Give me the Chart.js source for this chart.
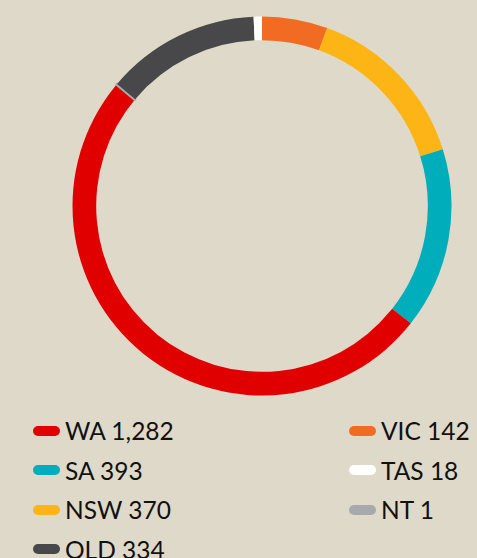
<!DOCTYPE html>
<html>
<head>
<meta charset="utf-8">
<script src="https://cdn.jsdelivr.net/npm/chart.js@4"></script>
<style>
    html, body { margin: 0; padding: 0; }
    body { width: 477px; height: 558px; background: #dfd9c9; position: relative; overflow: hidden; font-family: Lato, "Open Sans", sans-serif; }
    #wrap { position: absolute; left: 71px; top: 15px; width: 382px; height: 382px; }
    .item { position: absolute; display: flex; align-items: center; font-size: 24.5px; color: #111; white-space: nowrap; }
    .sw { width: 27px; height: 10px; border-radius: 5px; margin-right: 5px; }
</style>
</head>
<body>
<div id="wrap"><canvas id="myChart"></canvas></div>
<div id="legend"></div>
<script>
// slices in ring order, clockwise from 12 o'clock
const states = ['VIC', 'NSW', 'SA', 'WA', 'NT', 'QLD', 'TAS'];
const counts = [142, 370, 393, 1282, 1, 334, 18];
const colours = ['#f26b22', '#fdb515', '#00aebb', '#e00000', '#a7a9ac', '#48484a', '#ffffff'];

// legend is laid out in two columns
const leftColumn = ['WA', 'SA', 'NSW', 'QLD'];
const rightColumn = ['VIC', 'TAS', 'NT'];

function buildLegend() {
    const legend = document.getElementById('legend');
    const cols = [[leftColumn, 33], [rightColumn, 349]];
    cols.forEach(function (col) {
        col[0].forEach(function (name, row) {
            const i = states.indexOf(name);
            const div = document.createElement('div');
            div.className = 'item';
            div.style.left = col[1] + 'px';
            div.style.top = (416 + row * 39.5) + 'px';
            const sw = document.createElement('span');
            sw.className = 'sw';
            sw.style.background = colours[i];
            div.appendChild(sw);
            div.appendChild(document.createTextNode(name + ' ' + counts[i].toLocaleString('en-AU')));
            legend.appendChild(div);
        });
    });
}

function buildChart() {
    const data = {
        labels: states,
        datasets: [
            {
                data: counts,
                backgroundColor: colours,
                borderColor: colours,
                borderWidth: counts.map(v => v < 5 ? 3 : 0), // NT is too thin to see otherwise
            }
        ]
    };

    const config = {
        type: 'doughnut',
        data: data,
        options: {
            responsive: true,
            maintainAspectRatio: false,
            animation: false,
            cutout: '87.5%',
            plugins: {
                legend: { display: false },
                tooltip: { enabled: false }
            }
        },
    };

    new Chart(document.getElementById('myChart').getContext('2d'), config);
}

buildLegend();
buildChart();
</script>
</body>
</html>
